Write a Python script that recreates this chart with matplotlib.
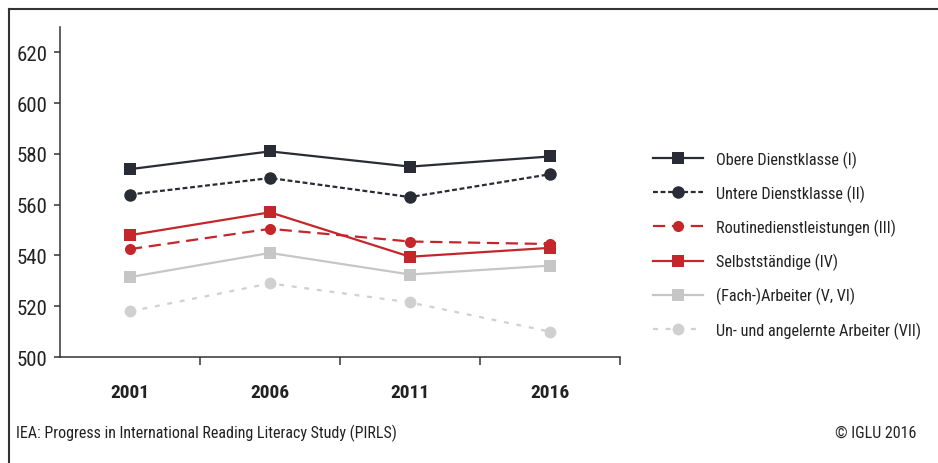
import matplotlib
matplotlib.use("Agg")
import matplotlib.pyplot as plt
from matplotlib.lines import Line2D

plt.rcParams['font.family'] = ['Roboto Condensed', 'Liberation Sans', 'DejaVu Sans']

years = ["2001", "2006", "2011", "2016"]
series_names = [
    "Obere Dienstklasse (I)",
    "Untere Dienstklasse (II)",
    "Routinedienstleistungen (III)",
    "Selbstständige (IV)",
    "(Fach-)Arbeiter (V, VI)",
    "Un- und angelernte Arbeiter (VII)",
]
obere = [574, 581, 575, 579]
untere = [564, 570.5, 563, 572]
routine = [542.5, 550.5, 545.5, 544.5]
selbst = [548, 557, 539.5, 543]
fach = [531.5, 541, 532.5, 536]
ungelernt = [518, 529, 521.5, 510]
yticks = [500, 520, 540, 560, 580, 600, 620]

values = [obere, untere, routine, selbst, fach, ungelernt]
dark = "#2a2c35"
red = "#c4262c"
gray = "#c6c6c6"
lgray = "#d0d0d0"
styles = [
    dict(color=dark, ls="-", marker="s", ms=9),
    dict(color=dark, ls=(0, (2.2, 1.2)), marker="o", ms=9),
    dict(color=red, ls=(0, (5.5, 3)), marker="o", ms=8),
    dict(color=red, ls="-", marker="s", ms=8.5),
    dict(color=gray, ls="-", marker="s", ms=9),
    dict(color=lgray, ls=(0, (2.2, 3.5)), marker="o", ms=8.5),
]

fig = plt.figure(figsize=(9.38, 4.64), dpi=100)
ax = fig.add_axes([0.064, 0.2284, 0.597, 0.7113])

x = range(len(years))
for name, vals, st in zip(series_names, values, styles):
    ax.plot(x, vals, label=name, lw=1.6, color=st["color"], ls=st["ls"],
            marker=st["marker"], markersize=st["ms"], markeredgewidth=0)

ax.set_xlim(-0.5, 3.5)
ax.set_ylim(500, 630)
ax.set_yticks(yticks)
ax.set_yticklabels([str(v) for v in yticks], fontsize=15, color="#222222")
ax.set_xticks([0.5, 1.5, 2.5, 3.5])
ax.set_xticklabels([])
ax.set_xticks(list(x), minor=True)
ax.set_xticklabels(years, minor=True, fontsize=14, fontweight="bold", color="#222222")
ax.tick_params(axis="x", which="major", length=6, width=1.1, color="#333333", direction="out")
ax.tick_params(axis="x", which="minor", length=0, pad=19)
ax.tick_params(axis="y", length=4, width=1.1, color="#333333", pad=5)
for s in ["top", "right"]:
    ax.spines[s].set_visible(False)
for s in ["left", "bottom"]:
    ax.spines[s].set_color("#333333")
    ax.spines[s].set_linewidth(1.1)

leg = fig.legend(loc="center left", bbox_to_anchor=(0.696, 0.471), frameon=False,
                 fontsize=11.7, handlelength=3.1, handletextpad=0.8,
                 labelspacing=1.04, numpoints=1, labelcolor="#222222",
                 borderaxespad=0, borderpad=0)

fig.text(0.017, 0.066, "IEA: Progress in International Reading Literacy Study (PIRLS)",
         fontsize=11.5, color="#222222", va="center")
fig.text(0.977, 0.066, "© IGLU 2016", fontsize=11.5, color="#222222", va="center", ha="right")

fig.add_artist(Line2D([0.0096, 1.0], [0.978, 0.978], transform=fig.transFigure, color="#333333", lw=1.5))
fig.add_artist(Line2D([0.0096, 0.0096], [0.0, 0.978], transform=fig.transFigure, color="#333333", lw=1.5))

fig.savefig("out.png", dpi=100)
